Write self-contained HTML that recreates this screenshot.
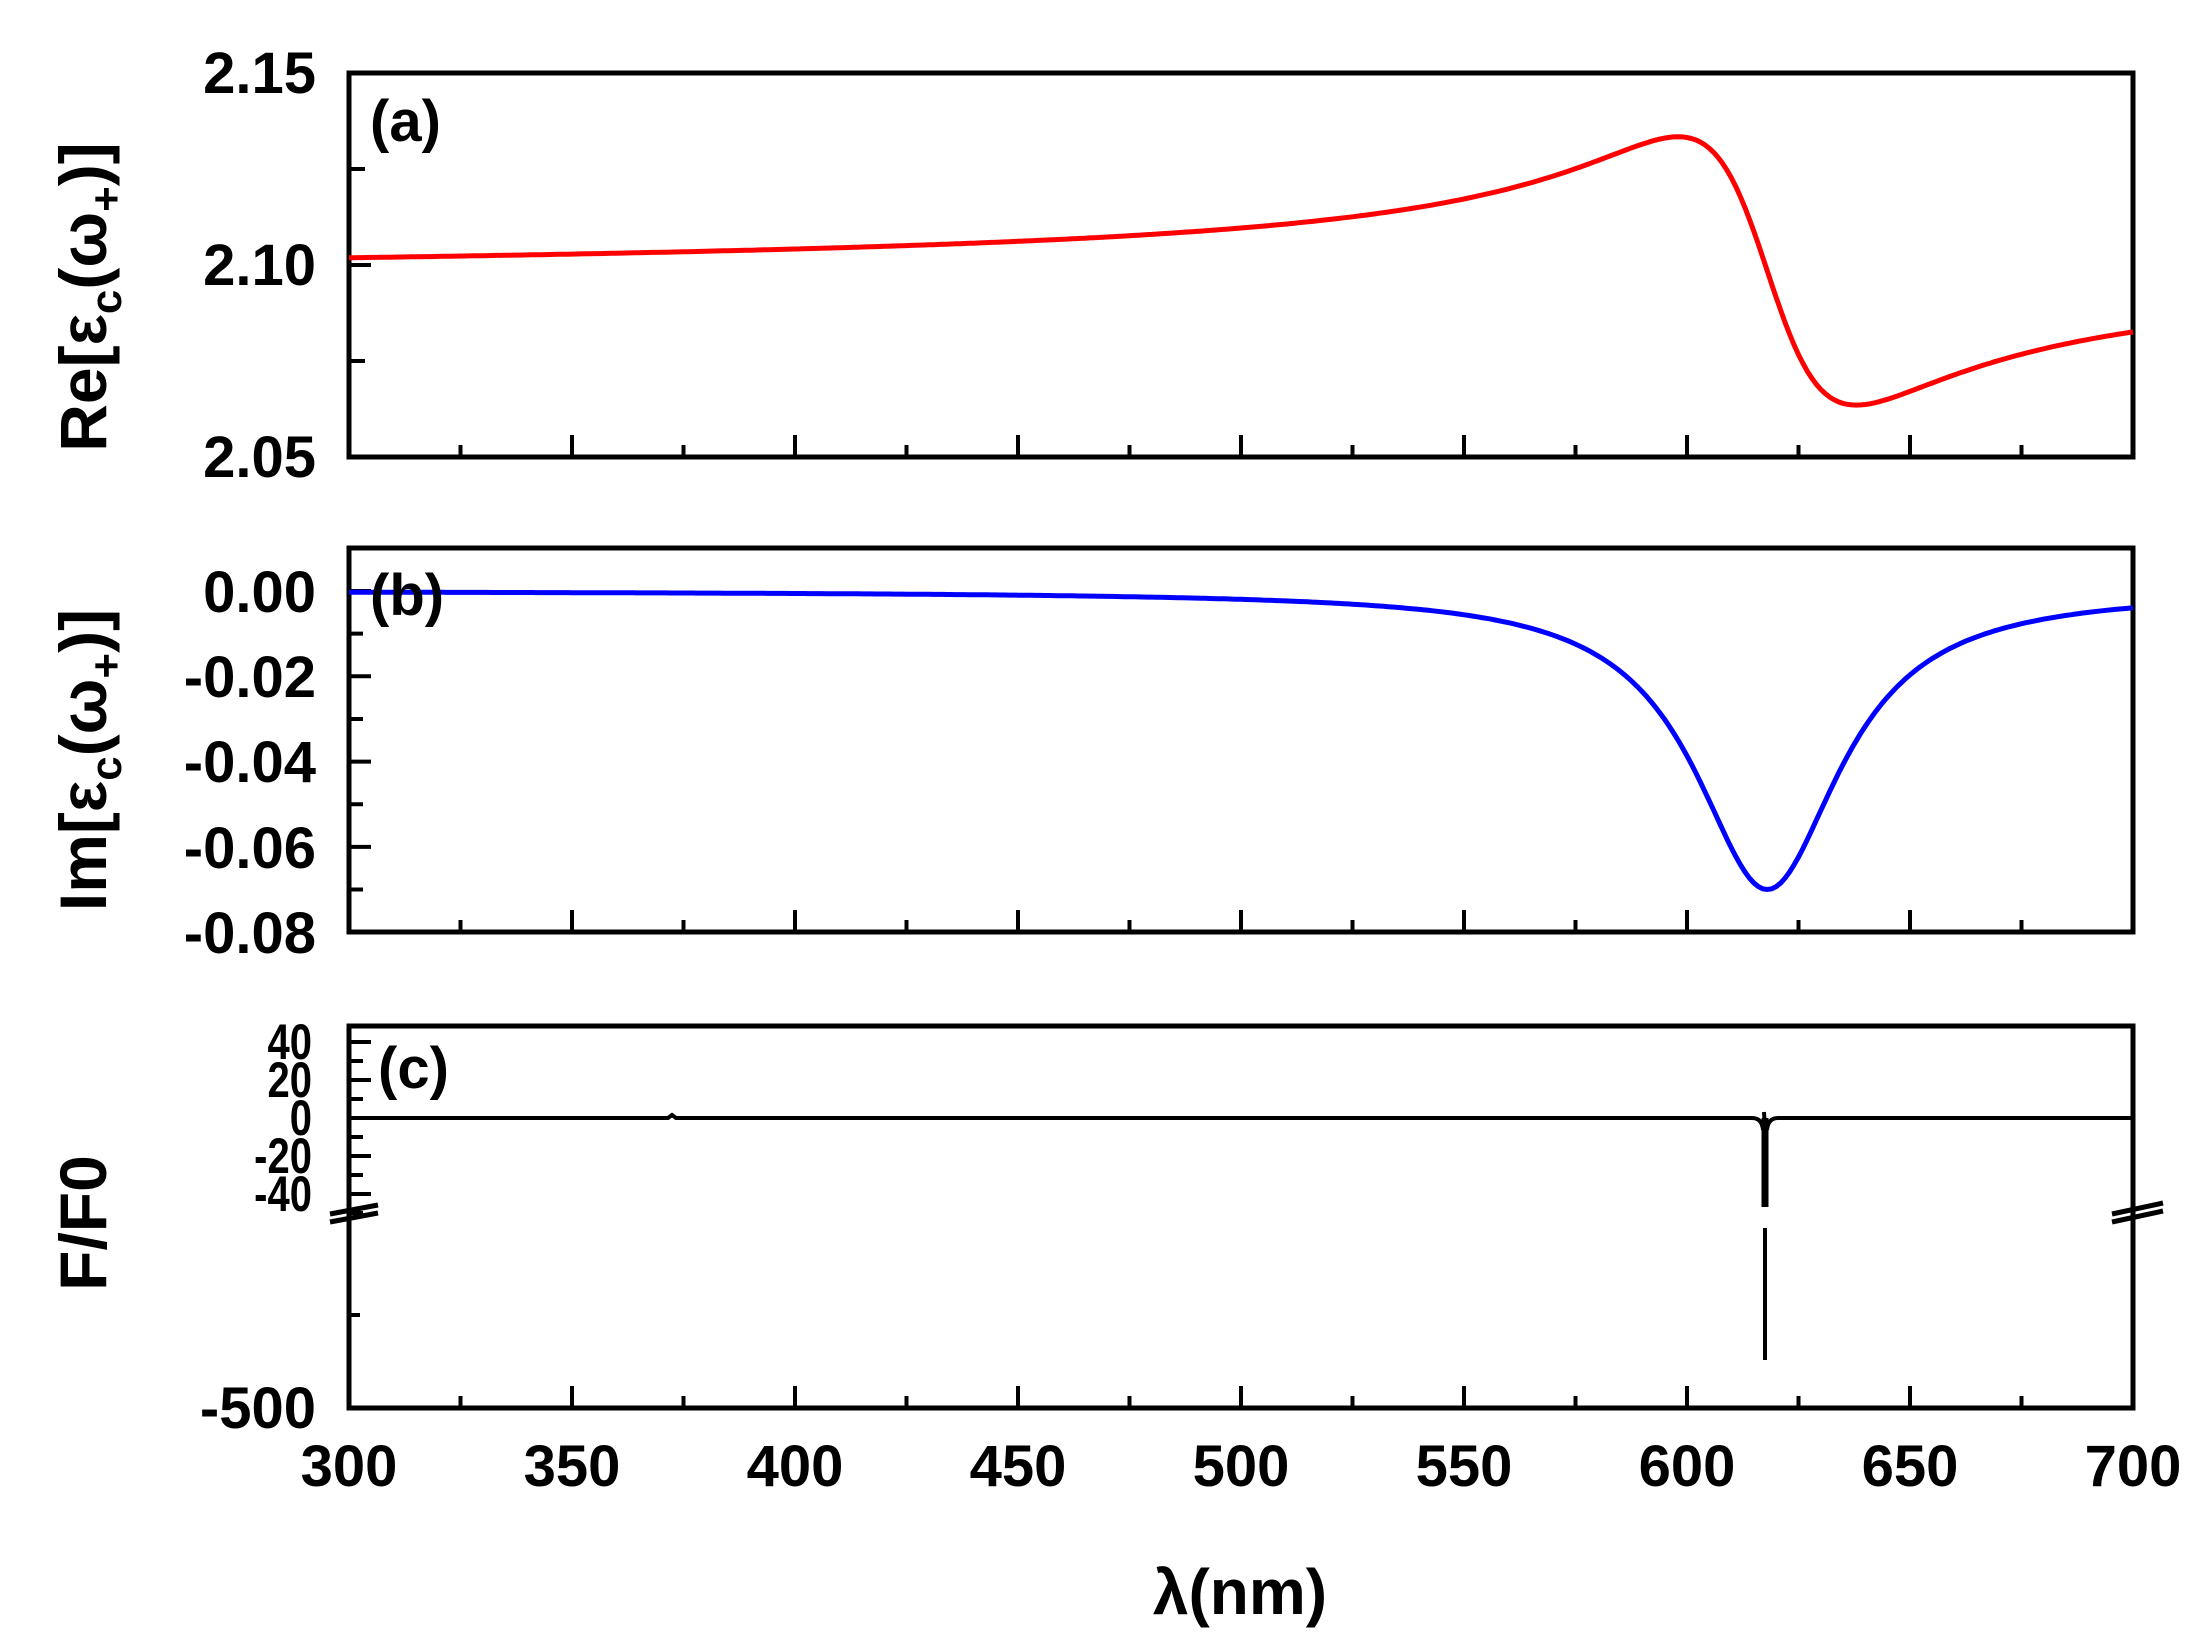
<!DOCTYPE html>
<html><head><meta charset="utf-8"><style>
html,body{margin:0;padding:0;background:#fff;}
svg{display:block;font-family:"Liberation Sans",Arial,sans-serif;font-weight:bold;}
</style></head><body>
<svg id="s" width="2205" height="1648" viewBox="0 0 2205 1648" xmlns="http://www.w3.org/2000/svg">
<g fill="none" stroke="#000" stroke-width="5">
<rect x="349" y="73" width="1784" height="384"/>
<rect x="349" y="548" width="1784" height="384"/>
<rect x="349" y="1026" width="1784" height="382"/>
</g>
<g id="ticks" stroke="#000" stroke-width="4"></g>
<path id="re" fill="none" stroke="#ff0000" stroke-width="5"/>
<path id="im" fill="none" stroke="#0000ff" stroke-width="5"/>
<path id="ff" fill="none" stroke="#000" stroke-width="4"/>
<path d="M1765 1118 L1765 1207" stroke="#000" stroke-width="7"/>
<path d="M1765 1228 L1765 1360" stroke="#000" stroke-width="4"/>
<path d="M1764 1112 Q1765 1128 1765 1140" stroke="#000" stroke-width="4" fill="none"/>
<path d="M330 1214 L378 1205 M330 1222 L378 1213" stroke="#000" stroke-width="5"/>
<path d="M2112 1222 L2163 1211 M2112 1214 L2163 1203" stroke="#000" stroke-width="5"/>
<g font-size="58" text-anchor="end" fill="#000">
<text x="316" y="93">2.15</text>
<text x="316" y="285">2.10</text>
<text x="316" y="477">2.05</text>
<text x="316" y="612">0.00</text>
<text x="316" y="697">-0.02</text>
<text x="316" y="782">-0.04</text>
<text x="316" y="868">-0.06</text>
<text x="316" y="953">-0.08</text>
<text x="316" y="1428">-500</text>
</g>
<g font-size="50" text-anchor="end" fill="#000" transform="scale(0.8,1)">
<text x="390" y="1059">40</text>
<text x="390" y="1097">20</text>
<text x="390" y="1135">0</text>
<text x="390" y="1173">-20</text>
<text x="390" y="1211">-40</text>
</g>
<g font-size="58" text-anchor="middle" fill="#000">
<text x="349" y="1486">300</text>
<text x="572" y="1486">350</text>
<text x="795" y="1486">400</text>
<text x="1018" y="1486">450</text>
<text x="1241" y="1486">500</text>
<text x="1464" y="1486">550</text>
<text x="1687" y="1486">600</text>
<text x="1910" y="1486">650</text>
<text x="2133" y="1486">700</text>
<text x="1240" y="1614" font-size="64">λ(nm)</text>
</g>
<g font-size="58" fill="#000">
<text x="370" y="141">(a)</text>
<text x="370" y="615">(b)</text>
<text x="378" y="1088">(c)</text>
</g>
<g font-size="66" fill="#000" text-anchor="middle">
<text transform="translate(106,297) rotate(-90)">Re[ε<tspan font-size="44" dy="15">c</tspan><tspan dy="-15">(ω</tspan><tspan font-size="44" dy="15">+</tspan><tspan dy="-15">)]</tspan></text>
<text transform="translate(106,760) rotate(-90)">Im[ε<tspan font-size="44" dy="15">c</tspan><tspan dy="-15">(ω</tspan><tspan font-size="44" dy="15">+</tspan><tspan dy="-15">)]</tspan></text>
<text transform="translate(106,1223) rotate(-90)">F/F0</text>
</g>
</svg>
<script>
const X=l=>349+(l-300)*1784/400;
const g=20,K=0.07*20,l0=618;
let re="",im="";
for(let l=300;l<=700;l+=1){
 const d=(l-l0),den=d*d+g*g;
 const r=2.0975+K*(l0-l)/den+0.000003*(l-300);
 const i=-K*g/den;
 const yr=457-(r-2.05)/0.1*384;
 const yi=591-(i)/0.02*85.3;
 re+=(l==300?"M":"L")+X(l).toFixed(1)+" "+yr.toFixed(1);
 im+=(l==300?"M":"L")+X(l).toFixed(1)+" "+Math.min(yi,932).toFixed(1);
}
document.getElementById("re").setAttribute("d",re);
document.getElementById("im").setAttribute("d",im);
document.getElementById("ff").setAttribute("d","M349 1118 L668 1118 L672 1115 L676 1118 L1752 1118 Q1762 1118 1763 1130 M1767 1130 Q1768 1118 1778 1118 L2133 1118");
let t="";
for(let k=0;k<=16;k++){
 const x=349+k*111.5,L=(k%2==0)?22:12;
 for(const yb of [457,932,1408]) t+=`M${x} ${yb} L${x} ${yb-L}`;
}
for(const [y,L] of [[169,16],[265,22],[361,16]]) t+=`M349 ${y} L${349+L} ${y}`;
for(let k=0;k<9;k++){const y=591+k*42.65-42.65;if(y>550&&y<930)t+=`M349 ${y} L${349+(k%2?22:14)} ${y}`;}
for(let k=0;k<=9;k++){const y=1042+k*19;t+=`M349 ${y} L${349+(k%2?14:22)} ${y}`;}
t+="M349 1315 L360 1315";
const p=document.createElementNS("http://www.w3.org/2000/svg","path");
p.setAttribute("d",t);p.setAttribute("stroke","#000");p.setAttribute("stroke-width","4");
document.getElementById("ticks").appendChild(p);
</script>
</body></html>
